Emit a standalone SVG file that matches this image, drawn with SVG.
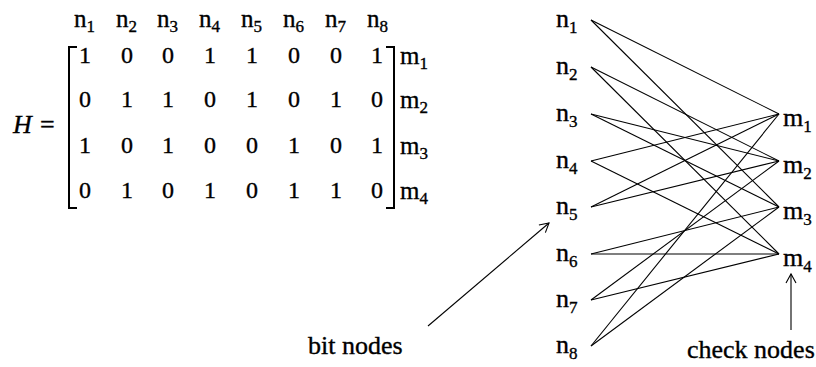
<svg xmlns="http://www.w3.org/2000/svg" width="816" height="367" viewBox="0 0 816 367">
<style>
.e{stroke:#000;stroke-width:1.1;fill:none}
.br{stroke:#000;stroke-width:2;fill:none}
.t{font-family:'Liberation Serif','Times New Roman',Times,'DejaVu Serif',serif}
.t text{stroke:#000;stroke-width:0.35}
</style>
<defs>
<marker id="ah" markerWidth="12" markerHeight="12" refX="10" refY="6" orient="auto" markerUnits="userSpaceOnUse">
<path d="M1,1 L10,6 L1,11" fill="none" stroke="#000" stroke-width="1.1"/>
</marker>
</defs>
<rect width="816" height="367" fill="#fff"/>

<g class="t" fill="#000">
<g id="matrix">
<text x="13" y="133" font-size="26" font-style="italic">H</text>
<text x="40" y="133" font-size="26">=</text>
<g font-size="25">
<text x="74" y="27">n<tspan font-size="17" dy="5">1</tspan></text>
<text x="116" y="27">n<tspan font-size="17" dy="5">2</tspan></text>
<text x="157" y="27">n<tspan font-size="17" dy="5">3</tspan></text>
<text x="199" y="27">n<tspan font-size="17" dy="5">4</tspan></text>
<text x="241" y="27">n<tspan font-size="17" dy="5">5</tspan></text>
<text x="283" y="27">n<tspan font-size="17" dy="5">6</tspan></text>
<text x="325" y="27">n<tspan font-size="17" dy="5">7</tspan></text>
<text x="367" y="27">n<tspan font-size="17" dy="5">8</tspan></text>
</g>
<path class="br" d="M77,47 H69 V208 H77"/>
<path class="br" d="M386,47 H394 V208 H386"/>
<g font-size="24" text-anchor="middle">
<text x="85" y="63">1</text><text x="127" y="63">0</text><text x="168" y="63">0</text><text x="210" y="63">1</text><text x="252" y="63">1</text><text x="294" y="63">0</text><text x="336" y="63">0</text><text x="377" y="63">1</text>
<text x="85" y="107">0</text><text x="127" y="107">1</text><text x="168" y="107">1</text><text x="210" y="107">0</text><text x="252" y="107">1</text><text x="294" y="107">0</text><text x="336" y="107">1</text><text x="377" y="107">0</text>
<text x="85" y="153">1</text><text x="127" y="153">0</text><text x="168" y="153">1</text><text x="210" y="153">0</text><text x="252" y="153">0</text><text x="294" y="153">1</text><text x="336" y="153">0</text><text x="377" y="153">1</text>
<text x="85" y="198">0</text><text x="127" y="198">1</text><text x="168" y="198">0</text><text x="210" y="198">1</text><text x="252" y="198">0</text><text x="294" y="198">1</text><text x="336" y="198">1</text><text x="377" y="198">0</text>
</g>
<g font-size="25">
<text x="400" y="64">m<tspan font-size="17" dy="5">1</tspan></text>
<text x="400" y="108">m<tspan font-size="17" dy="5">2</tspan></text>
<text x="400" y="154">m<tspan font-size="17" dy="5">3</tspan></text>
<text x="400" y="199">m<tspan font-size="17" dy="5">4</tspan></text>
</g>
</g>

<g id="connectors">
<line class="e" x1="591" y1="20" x2="779" y2="114"/>
<line class="e" x1="591" y1="20" x2="779" y2="207"/>
<line class="e" x1="591" y1="67" x2="779" y2="161"/>
<line class="e" x1="591" y1="67" x2="779" y2="254"/>
<line class="e" x1="591" y1="114" x2="779" y2="161"/>
<line class="e" x1="591" y1="114" x2="779" y2="207"/>
<line class="e" x1="591" y1="161" x2="779" y2="114"/>
<line class="e" x1="591" y1="161" x2="779" y2="254"/>
<line class="e" x1="591" y1="207" x2="779" y2="114"/>
<line class="e" x1="591" y1="207" x2="779" y2="161"/>
<line class="e" x1="591" y1="254" x2="779" y2="207"/>
<line class="e" x1="591" y1="254" x2="779" y2="254"/>
<line class="e" x1="591" y1="300" x2="779" y2="161"/>
<line class="e" x1="591" y1="300" x2="779" y2="254"/>
<line class="e" x1="591" y1="346" x2="779" y2="114"/>
<line class="e" x1="591" y1="346" x2="779" y2="207"/>
<line class="e" x1="428" y1="326" x2="549" y2="223" marker-end="url(#ah)"/>
<line class="e" x1="791" y1="330" x2="791" y2="274" marker-end="url(#ah)"/>
</g>

<g font-size="26">
<g id="n1"><text x="556" y="27">n<tspan font-size="17" dy="6">1</tspan></text></g>
<g id="n2"><text x="556" y="74">n<tspan font-size="17" dy="6">2</tspan></text></g>
<g id="n3"><text x="556" y="121">n<tspan font-size="17" dy="6">3</tspan></text></g>
<g id="n4"><text x="556" y="168">n<tspan font-size="17" dy="6">4</tspan></text></g>
<g id="n5"><text x="556" y="214">n<tspan font-size="17" dy="6">5</tspan></text></g>
<g id="n6"><text x="556" y="261">n<tspan font-size="17" dy="6">6</tspan></text></g>
<g id="n7"><text x="556" y="307">n<tspan font-size="17" dy="6">7</tspan></text></g>
<g id="n8"><text x="556" y="353">n<tspan font-size="17" dy="6">8</tspan></text></g>

<g id="m1"><text x="783" y="126">m<tspan font-size="17" dy="6">1</tspan></text></g>
<g id="m2"><text x="783" y="173">m<tspan font-size="17" dy="6">2</tspan></text></g>
<g id="m3"><text x="783" y="219">m<tspan font-size="17" dy="6">3</tspan></text></g>
<g id="m4"><text x="783" y="266">m<tspan font-size="17" dy="6">4</tspan></text></g>

<g id="bit-nodes-label"><text x="308" y="354">bit nodes</text></g>
<g id="check-nodes-label"><text x="687" y="358">check nodes</text></g>
</g>
</g>
</svg>
